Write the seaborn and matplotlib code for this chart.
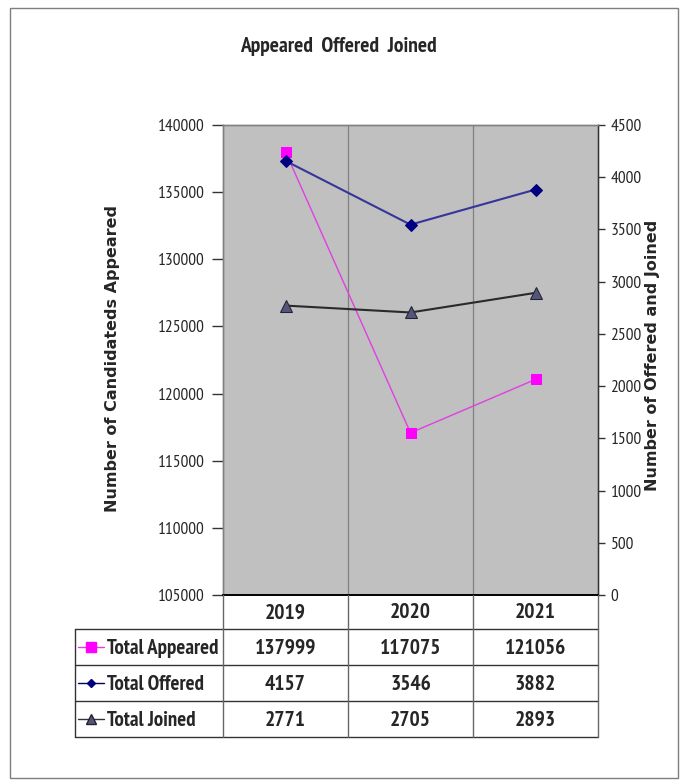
import matplotlib
matplotlib.use("Agg")
import matplotlib.pyplot as plt
from matplotlib.lines import Line2D
from matplotlib.patches import Rectangle
from matplotlib.ticker import FixedLocator
import seaborn as sns
import pandas as pd

# ---- data ----
years = ["2019", "2020", "2021"]
total_appeared = [137999, 117075, 121056]
total_offered = [4157, 3546, 3882]
total_joined = [2771, 2705, 2893]
series_names = ["Total Appeared", "Total Offered", "Total Joined"]
left_ticks = [105000, 110000, 115000, 120000, 125000, 130000, 135000, 140000]
right_ticks = [0, 500, 1000, 1500, 2000, 2500, 3000, 3500, 4000, 4500]
title = "Appeared  Offered  Joined"
left_label = "Number of Candidateds Appeared"
right_label = "Number of Offered and Joined"

df = pd.DataFrame({"Year": years, "Appeared": total_appeared,
                   "Offered": total_offered, "Joined": total_joined})

sns.set_theme(style="white")
NARROW = ["PT Sans Narrow", "Roboto Condensed", "DejaVu Sans"]
plt.rcParams["font.family"] = NARROW

W, H = 690, 782
fig = plt.figure(figsize=(W / 100, H / 100), dpi=100)
fig.patch.set_facecolor("white")


def fx(px):
    return px / W


def fy(py):
    return 1 - py / H


# outer border
fig.add_artist(Rectangle((fx(10), fy(778)), fx(678) - fx(10), fy(8) - fy(778),
                         transform=fig.transFigure, fill=False,
                         edgecolor="#7f7f7f", linewidth=1.0))

L, R, T, B = 223, 598, 125, 595
ax = fig.add_axes([fx(L), fy(B), fx(R) - fx(L), fy(T) - fy(B)])
ax.set_facecolor("#c0c0c0")
ax2 = ax.twinx()

sns.lineplot(data=df, x="Year", y="Appeared", ax=ax, color="#e040e0",
             linewidth=1.0, marker="s", markersize=7,
             markerfacecolor="#ff00ff", markeredgecolor="#ff00ff", sort=False)
sns.lineplot(data=df, x="Year", y="Offered", ax=ax2, color="#35359a",
             linewidth=1.5, marker="D", markersize=6,
             markerfacecolor="#000080", markeredgecolor="#000080", sort=False)
sns.lineplot(data=df, x="Year", y="Joined", ax=ax2, color="#2a2a2a",
             linewidth=1.5, marker="^", markersize=8,
             markerfacecolor="#55557a", markeredgecolor="#222233", sort=False)

ax.set_xlim(-0.5, 2.5)
ax.set_ylim(left_ticks[0], left_ticks[-1])
ax2.set_ylim(right_ticks[0], right_ticks[-1])
ax.set_yticks(left_ticks)
ax2.set_yticks(right_ticks)
ax.set_yticklabels([str(t) for t in left_ticks], fontsize=12.5, family=NARROW)
ax2.set_yticklabels([str(t) for t in right_ticks], fontsize=12.5, family=NARROW)
ax.set_xlabel("")
ax.set_ylabel("")
ax2.set_ylabel("")
ax.set_xticks([])
ax.xaxis.set_minor_locator(FixedLocator([0.5, 1.5]))
ax.grid(which="minor", axis="x", color="#808080", linewidth=0.9)
ax.grid(which="major", axis="y", visible=False)
ax.tick_params(axis="y", direction="out", length=8, width=1, color="#333333",
               pad=5, left=True)
ax2.tick_params(axis="y", direction="out", length=5, width=1, color="#333333",
                pad=4, right=True)
ax.tick_params(axis="x", which="both", length=0)
for a in (ax, ax2):
    for s in ("top", "left", "right"):
        a.spines[s].set_color("#808080")
        a.spines[s].set_linewidth(1.0)
    a.spines["bottom"].set_color("#000000")
    a.spines["bottom"].set_linewidth(1.2)
ax2.spines["right"].set_color("#333333")

# title and axis labels
fig.text(fx(338), fy(47), title, ha="center", va="center", fontsize=15.5,
         fontweight="bold", family=NARROW)
fig.text(fx(113), fy(358), left_label, rotation=90, ha="center", va="center",
         fontsize=11.5, fontweight="bold", family=["DejaVu Sans"])
fig.text(fx(652), fy(355), right_label, rotation=90, ha="center", va="center",
         fontsize=11.5, fontweight="bold", family=["DejaVu Sans"])

# ---- data table ----
col_edges = [223, 348, 473, 598]
row_edges = [595, 629, 665, 701, 737]
tbl_left = 75


def hline(y, x0, x1, color="#333333", lw=1.0):
    fig.add_artist(Line2D([fx(x0), fx(x1)], [fy(y), fy(y)],
                          transform=fig.transFigure, color=color, linewidth=lw))


def vline(x, y0, y1, color="#333333", lw=1.0):
    fig.add_artist(Line2D([fx(x), fx(x)], [fy(y0), fy(y1)],
                          transform=fig.transFigure, color=color, linewidth=lw))


for y in row_edges[1:]:
    hline(y, tbl_left, col_edges[-1])
vline(tbl_left, row_edges[1], row_edges[-1])
for x in col_edges:
    vline(x, row_edges[0], row_edges[-1], color="#666666")

for i, yr in enumerate(years):
    cx = (col_edges[i] + col_edges[i + 1]) / 2
    fig.text(fx(cx), fy((row_edges[0] + row_edges[1]) / 2 + 1), yr,
             ha="center", va="center", fontsize=15.5, fontweight="bold",
             family=NARROW)

rows = [total_appeared, total_offered, total_joined]
styles = [
    dict(color="#e040e0", marker="s", ms=7, mfc="#ff00ff", mec="#ff00ff", lw=1.0),
    dict(color="#000066", marker="D", ms=4.5, mfc="#000080", mec="#000080", lw=1.0),
    dict(color="#333333", marker="^", ms=7, mfc="#55557a", mec="#222233", lw=1.0),
]
for r, (name, vals, st) in enumerate(zip(series_names, rows, styles)):
    cy = (row_edges[r + 1] + row_edges[r + 2]) / 2
    ln = Line2D([fx(78), fx(104)], [fy(cy), fy(cy)], transform=fig.transFigure,
                color=st["color"], linewidth=st["lw"])
    fig.add_artist(ln)
    mk = Line2D([fx(91)], [fy(cy)], transform=fig.transFigure,
                marker=st["marker"], markersize=st["ms"],
                markerfacecolor=st["mfc"], markeredgecolor=st["mec"],
                linestyle="none")
    fig.add_artist(mk)
    fig.text(fx(107), fy(cy + 1), name, ha="left", va="center",
             fontsize=15, fontweight="bold", family=NARROW)
    for i, v in enumerate(vals):
        cx = (col_edges[i] + col_edges[i + 1]) / 2
        fig.text(fx(cx), fy(cy + 1), str(v), ha="center", va="center",
                 fontsize=15.5, fontweight="bold", family=NARROW)

fig.savefig("out.png", dpi=100, facecolor="white")
